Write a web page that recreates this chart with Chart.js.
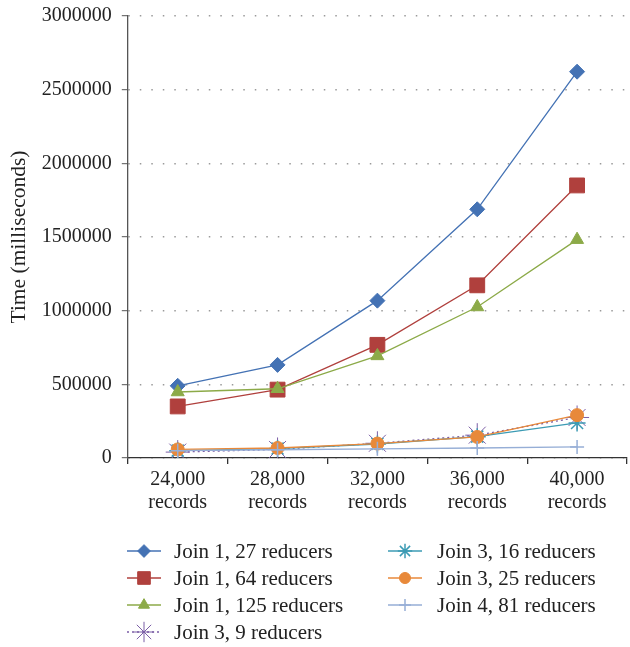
<!DOCTYPE html>
<html>
<head>
<meta charset="utf-8">
<script src="https://cdn.jsdelivr.net/npm/chart.js@4/dist/chart.umd.min.js"></script>
<style>
html,body{margin:0;padding:0;background:#fff;}
#wrap{width:630px;height:647px;position:relative;}
</style>
</head>
<body>
<div id="wrap"><canvas id="c" width="630" height="647"></canvas></div>
<script>
const categories = [["24,000","records"],["28,000","records"],["32,000","records"],["36,000","records"],["40,000","records"]];
const seriesNames = ["Join 1, 27 reducers","Join 1, 64 reducers","Join 1, 125 reducers","Join 3, 9 reducers","Join 3, 16 reducers","Join 3, 25 reducers","Join 4, 81 reducers"];
const join1r27 = [490000, 632000, 1068000, 1688000, 2622000];
const join1r64 = [350000, 464000, 768000, 1172000, 1850000];
const join1r125 = [448000, 470000, 693000, 1025000, 1482000];
const join3r9 = [40000, 58000, 100000, 155000, 275000];
const join3r16 = [50000, 64000, 95000, 145000, 238000];
const join3r25 = [58000, 68000, 98000, 143000, 291000];
const join4r81 = [50000, 56000, 62000, 68000, 75000];
const yTicks = [0, 500000, 1000000, 1500000, 2000000, 2500000, 3000000];

const FONT = "'Liberation Serif', 'DejaVu Serif', serif";
const styles = [
  {color:'#4472B4', point:'rectRot', r:7.5, bw:1, dash:[]},
  {color:'#B0403D', point:'rect', r:10.5, bw:1, dash:[]},
  {color:'#8CAA48', point:'triangle', r:7.5, bw:1, dash:[]},
  {color:'#7B5EA6', point:'star', r:12, bw:1, dash:[2,3], fill:'rgba(0,0,0,0)'},
  {color:'#3C9BB4', point:'star', r:8.5, bw:1.5, dash:[]},
  {color:'#E8893A', point:'circle', r:6.5, bw:1, dash:[]},
  {color:'#96AED6', point:'cross', r:7, bw:1.5, dash:[]}
];
const values = [join1r27, join1r64, join1r125, join3r9, join3r16, join3r25, join4r81];

const datasets = seriesNames.map((n,i)=>({
  label:n,
  data:values[i],
  borderColor:styles[i].color,
  backgroundColor:styles[i].fill || styles[i].color,
  borderWidth:1.3,
  borderDash:styles[i].dash,
  pointStyle:styles[i].point,
  pointRadius:styles[i].r,
  pointHoverRadius:styles[i].r,
  pointBorderColor:styles[i].color,
  pointBackgroundColor:styles[i].fill || styles[i].color,
  pointBorderWidth:styles[i].bw,
  tension:0,
  fill:false,
  order: 7-i
}));

const legendPlugin = {
  id:'customLegend',
  afterDraw(chart){
    const ctx = chart.ctx;
    const cols = [{lx:127, tx:174},{lx:388, tx:437}];
    const rows = [551, 578, 605, 632];
    const layout = [[0,0],[0,1],[0,2],[0,3],[1,0],[1,1],[1,2]];
    chart.data.datasets.forEach((ds,i)=>{
      const c = cols[layout[i][0]], y = rows[layout[i][1]];
      ctx.save();
      ctx.strokeStyle = ds.borderColor;
      ctx.lineWidth = 1.5;
      ctx.setLineDash(ds.borderDash || []);
      ctx.beginPath(); ctx.moveTo(c.lx, y); ctx.lineTo(c.lx+34, y); ctx.stroke();
      ctx.setLineDash([]);
      ctx.fillStyle = ds.pointBackgroundColor;
      ctx.strokeStyle = ds.pointBorderColor;
      ctx.lineWidth = ds.pointBorderWidth;
      Chart.helpers.drawPoint(ctx, {pointStyle:ds.pointStyle, radius:ds.pointRadius*0.85, rotation:0, borderWidth:ds.pointBorderWidth}, c.lx+17, y);
      ctx.fillStyle = '#222';
      ctx.font = "21px " + FONT;
      ctx.textBaseline = 'middle';
      ctx.textAlign = 'left';
      ctx.fillText(ds.label, c.tx, y+1);
      ctx.restore();
    });
  }
};

new Chart(document.getElementById('c'), {
  type:'line',
  data:{labels:categories, datasets},
  plugins:[legendPlugin],
  options:{
    responsive:false,
    animation:false,
    devicePixelRatio:1,
    layout:{autoPadding:false, padding:{top:4, right:3, bottom:129, left:6}},
    plugins:{legend:{display:false}, tooltip:{enabled:false}},
    scales:{
      x:{
        type:'category',
        offset:true,
        grid:{offset:true, drawOnChartArea:false, drawTicks:true, tickLength:6, color:'#333', lineWidth:1.3},
        border:{color:'#333', width:1.3},
        ticks:{color:'#222', font:{family:FONT, size:20, lineHeight:1.15}, padding:4, maxRotation:0, autoSkip:false}
      },
      y:{
        min:0, max:3000000,
        afterBuildTicks(scale){ scale.ticks = yTicks.map(v=>({value:v})); },
        grid:{color:'#9a9a9a', lineWidth:1.4, drawTicks:true, tickLength:6, tickColor:'#555', tickWidth:1},
        border:{color:'#555', width:1.3, dash:[1.5,10]},
        ticks:{color:'#222', font:{family:FONT, size:20, lineHeight:0.6}, padding:10, callback:(v)=>String(v)},
        title:{display:true, text:'Time (milliseconds)', color:'#222', font:{family:FONT, size:21.5}, padding:{top:0,bottom:0}}
      }
    }
  }
});
</script>
</body>
</html>
